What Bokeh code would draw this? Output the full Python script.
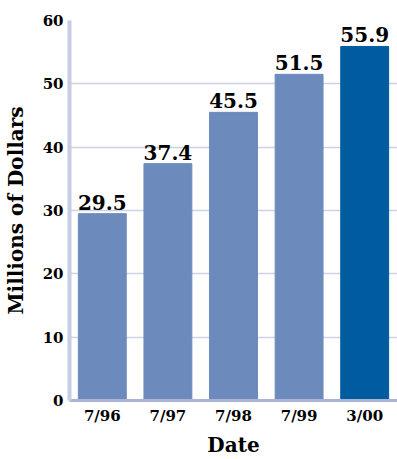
from bokeh.plotting import figure
from bokeh.models import ColumnDataSource, FactorRange, SingleIntervalTicker
from bokeh.embed import file_html
from bokeh.resources import INLINE

dates = ["7/96", "7/97", "7/98", "7/99", "3/00"]
values = [29.5, 37.4, 45.5, 51.5, 55.9]
colors = ["#6d8abd", "#6d8abd", "#6d8abd", "#6d8abd", "#005b9f"]
labels = [f"{v:.1f}" for v in values]

FONT = "DejaVu Serif"

src = ColumnDataSource(dict(x=dates, top=values, color=colors, label=labels))

p = figure(width=397, height=459, x_range=FactorRange(*dates, range_padding=0),
           y_range=(0, 60), output_backend="svg", toolbar_location=None,
           min_border_top=20, min_border_right=0, min_border_left=0, min_border_bottom=0)
p.outline_line_color = None
p.background_fill_color = "white"

p.vbar(x="x", top="top", width=0.73, color="color", source=src)
p.text(x="x", y="top", text="label", source=src, text_align="center",
       text_baseline="bottom", y_offset=-4, text_font_size="20px",
       text_font_style="bold", text_font={"value": FONT}, text_color="black")

p.yaxis.ticker = SingleIntervalTicker(interval=10)
p.ygrid.grid_line_color = "#ccd3e6"
p.ygrid.grid_line_width = 1.5
p.xgrid.grid_line_color = None

for ax in (p.xaxis[0], p.yaxis[0]):
    ax.major_tick_line_color = None
    ax.minor_tick_line_color = None
    ax.major_tick_out = 0
    ax.major_tick_in = 0
    ax.minor_tick_out = 0
    ax.minor_tick_in = 0
    ax.major_label_text_font = FONT
    ax.major_label_text_font_style = "bold"
    ax.major_label_text_color = "black"
    ax.axis_label_text_font = FONT
    ax.axis_label_text_font_style = "bold"
    ax.axis_label_text_color = "black"
    ax.axis_label_text_font_size = "20px"

p.yaxis.axis_label = "Millions of Dollars"
p.yaxis.axis_line_color = "#c5cce3"
p.yaxis.axis_line_width = 4
p.yaxis.major_label_text_font_size = "15px"
p.yaxis.major_label_standoff = 6
p.yaxis.axis_label_standoff = 12

p.xaxis.axis_label = "Date"
p.xaxis.axis_line_color = "#aab4d6"
p.xaxis.axis_line_width = 3
p.xaxis.major_label_text_font_size = "15px"
p.xaxis.major_label_standoff = 6
p.xaxis.axis_label_standoff = 5

open("out.html", "w").write(file_html(p, INLINE))
